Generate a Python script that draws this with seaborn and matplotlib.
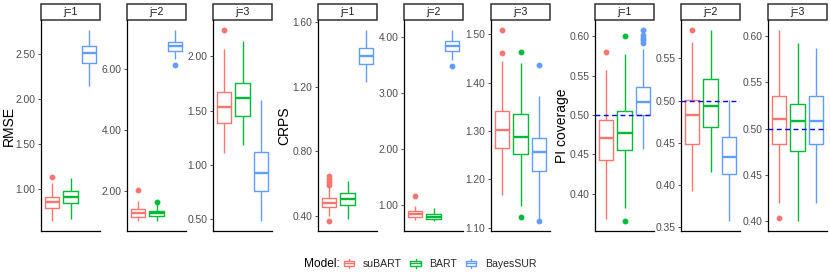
import matplotlib
matplotlib.use("Agg")
import matplotlib.pyplot as plt
import pandas as pd
import seaborn as sns
from matplotlib.legend_handler import HandlerBase
from matplotlib.lines import Line2D
from matplotlib.patches import Rectangle

models = ["suBART", "BART", "BayesSUR"]
palette = ["#F8766D", "#00BA38", "#619CFF"]
metrics = ["RMSE", "CRPS", "PI coverage"]
facets = ["j=1", "j=2", "j=3"]

# box summaries: (lower whisker, q1, median, q3, upper whisker)
# rows are j=1..3, columns follow `models`
rmse_boxes = [
    [(0.64, 0.793, 0.852, 0.907, 1.063), (0.663, 0.841, 0.915, 0.981, 1.119), (2.144, 2.396, 2.504, 2.581, 2.767)],
    [(0.99, 1.14, 1.27, 1.41, 1.67), (0.99, 1.16, 1.26, 1.34, 1.57), (6.32, 6.60, 6.76, 6.88, 7.29)],
    [(1.106, 1.382, 1.535, 1.669, 2.067), (1.18, 1.449, 1.614, 1.749, 2.141), (0.479, 0.763, 0.929, 1.118, 1.596)],
]
rmse_out = [
    [[1.13], [], []],
    [[2.03], [1.63], [6.13]],
    [[2.245], [], []],
]
crps_boxes = [
    [(0.404, 0.456, 0.482, 0.51, 0.585), (0.383, 0.471, 0.506, 0.543, 0.619), (1.229, 1.34, 1.391, 1.438, 1.551)],
    [(0.725, 0.786, 0.839, 0.886, 0.987), (0.707, 0.75, 0.791, 0.832, 0.946), (3.595, 3.756, 3.833, 3.923, 4.131)],
    [(1.167, 1.264, 1.302, 1.341, 1.444), (1.145, 1.252, 1.288, 1.335, 1.441), (1.117, 1.218, 1.256, 1.286, 1.372)],
]
crps_out = [
    [[0.368, 0.594, 0.612, 0.629, 0.646], [], []],
    [[1.154], [], [3.482]],
    [[1.461, 1.51], [1.1225, 1.463], [1.113, 1.436]],
]
pi_boxes = [
    [(0.368, 0.443, 0.470, 0.494, 0.557), (0.381, 0.455, 0.477, 0.505, 0.577), (0.456, 0.500, 0.516, 0.536, 0.584)],
    [(0.393, 0.449, 0.483, 0.501, 0.569), (0.416, 0.469, 0.493, 0.525, 0.584), (0.357, 0.413, 0.433, 0.457, 0.501)],
    [(0.420, 0.484, 0.510, 0.535, 0.607), (0.400, 0.476, 0.508, 0.527, 0.592), (0.420, 0.484, 0.508, 0.535, 0.587)],
]
pi_out = [
    [[0.580], [0.3645, 0.600], [0.592, 0.595, 0.598, 0.601, 0.6085]],
    [[0.584], [], []],
    [[0.404], [], []],
]
pi_target = 0.50

rmse_ticks = [[1.0, 1.5, 2.0, 2.5], [2, 4, 6], [0.5, 1.0, 1.5, 2.0]]
crps_ticks = [[0.4, 0.8, 1.2, 1.6], [1, 2, 3, 4], [1.1, 1.2, 1.3, 1.4, 1.5]]
pi_ticks = [[0.40, 0.45, 0.50, 0.55, 0.60], [0.35, 0.40, 0.45, 0.50, 0.55], [0.40, 0.45, 0.50, 0.55, 0.60]]


def expand(stats, outliers):
    """Turn a read-off box summary into observations with the same quartiles."""
    lo, q1, med, q3, hi = stats
    below = sorted(o for o in outliers if o < q1) + [lo]
    above = [hi] + sorted(o for o in outliers if o > q3)
    m = max(len(below), len(above)) + 1
    return (below + [q1] * (m + 1 - len(below)) + [med] * m
            + [q3] * (2 * m - len(above)) + above)


rows = []
for metric, boxes, outs in [("RMSE", rmse_boxes, rmse_out),
                            ("CRPS", crps_boxes, crps_out),
                            ("PI coverage", pi_boxes, pi_out)]:
    for j, facet in enumerate(facets):
        for k, model in enumerate(models):
            for v in expand(boxes[j][k], outs[j][k]):
                rows.append({"metric": metric, "j": facet, "model": model, "value": v})
df = pd.DataFrame(rows)
ticks = {"RMSE": rmse_ticks, "CRPS": crps_ticks, "PI coverage": pi_ticks}

sns.set_theme(style="ticks")
plt.rcParams["font.family"] = ["Liberation Sans", "DejaVu Sans"]

fig = plt.figure(figsize=(8.3, 2.77), dpi=100)
W, H = 830, 277
lefts = [41, 127, 213, 318, 404, 491, 595, 681, 768]
label_x = {"RMSE": 16, "CRPS": 291, "PI coverage": 569}  # right edge of y titles, px
pw, top, bottom = 59, 20, 231
strip_h = 16

for i, (metric, facet) in enumerate([(m, f) for m in metrics for f in facets]):
    ax = fig.add_axes([lefts[i] / W, 1 - bottom / H, pw / W, (bottom - top) / H])
    sub = df[(df.metric == metric) & (df.j == facet)]
    sns.boxplot(data=sub, x="model", y="value", hue="model", order=models,
                hue_order=models, palette=palette, fill=False, width=0.78,
                linewidth=1.0, showcaps=False, legend=False, ax=ax,
                medianprops={"linewidth": 1.7},
                flierprops={"marker": "o", "markersize": 3.2})
    for ln in ax.lines:
        if ln.get_marker() == "o":
            ln.set_markerfacecolor(ln.get_markeredgecolor())
    if metric == "PI coverage":
        ax.axhline(pi_target, color="blue", lw=1.0, ls=(0, (3.5, 2.5)), zorder=5)
    ax.set_xlim(-0.6, 2.6)
    ax.set_xticks([])
    ax.set_xlabel("")
    yt = ticks[metric][facets.index(facet)]
    ax.set_yticks(yt)
    ax.set_yticklabels([f"{t:.2f}" for t in yt])
    ax.tick_params(axis="y", labelsize=7.4, colors="#4D4D4D", length=2.5, width=0.7, pad=1.5)
    for s in ["top", "right"]:
        ax.spines[s].set_visible(False)
    for s in ["left", "bottom"]:
        ax.spines[s].set_color("black")
        ax.spines[s].set_linewidth(0.9)
    if facet == "j=1":
        ax.set_ylabel(metric, fontsize=10, color="black")
        ax.yaxis.set_label_coords((label_x[metric] - lefts[i]) / pw, 0.5)
    else:
        ax.set_ylabel("")
    sh = strip_h / (bottom - top)
    ax.add_patch(Rectangle((0, 1), 1, sh, transform=ax.transAxes, fill=True,
                           facecolor="white", edgecolor="#333333", lw=1.1, clip_on=False))
    ax.text(0.5, 1 + sh / 2, facet, transform=ax.transAxes, ha="center", va="center",
            fontsize=7.6, color="#1A1A1A")


class BoxKey(HandlerBase):
    def create_artists(self, legend, orig, x0, y0, width, height, fontsize, trans):
        c = orig.get_color()
        cx = x0 + width / 2
        arts = [
            Rectangle((x0, y0 + height * 0.2), width, height * 0.6, fill=False,
                      edgecolor=c, lw=1.0, transform=trans),
            Line2D([x0, x0 + width], [y0 + height / 2] * 2, color=c, lw=1.0, transform=trans),
            Line2D([cx, cx], [y0 - height * 0.15, y0 + height * 0.2], color=c, lw=1.0, transform=trans),
            Line2D([cx, cx], [y0 + height * 0.8, y0 + height * 1.15], color=c, lw=1.0, transform=trans),
        ]
        return arts


handles = [Line2D([], [], color=c) for c in palette]
fig.legend(handles, models, handler_map={Line2D: BoxKey()}, loc="center",
           bbox_to_anchor=(440 / W, 1 - 264 / H), ncol=3, frameon=False,
           fontsize=7.6, handlelength=1.0, handletextpad=0.8, columnspacing=0.8)
fig.text(340 / W, 1 - 264 / H, "Model:", ha="right", va="center", fontsize=8.6, color="black")

fig.savefig("out.png", dpi=100)
